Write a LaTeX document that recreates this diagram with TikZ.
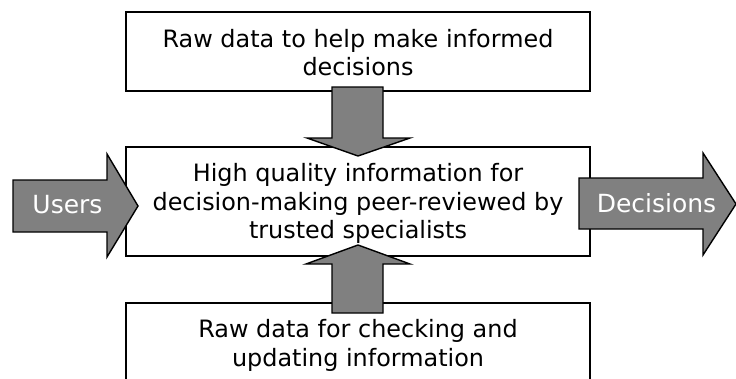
\documentclass[tikz,border=0pt]{standalone}
\usepackage{fontspec}
\setmainfont{DejaVu Sans}
\definecolor{arrowgray}{RGB}{128,128,128}

\tikzset{
    infobox/.style={draw,line width=1.6pt,fill=white,minimum width=464pt},
    boxtext/.style={anchor=base,align=center,inner sep=0pt,
        font=\fontsize{23.9}{28.3}\selectfont},
    blockarrow/.style={draw,line width=1.4pt,fill=arrowgray,line join=miter},
    arrowtext/.style={anchor=base,inner sep=0pt,text=white,
        font=\fontsize{25}{30}\selectfont}
}

\begin{document}
\begin{tikzpicture}[x=1pt,y=-1pt]
    \useasboundingbox (0,0) rectangle (736,378);
    \clip (0,0) rectangle (736,378);

    % three boxes, the lowest runs off the bottom edge
    \node[infobox,minimum height=79pt] (rawTop) at (358,51.5) {};
    \node[infobox,minimum height=109pt] (quality) at (358,201.5) {};
    \node[infobox,minimum height=100pt] (rawBottom) at (358,353) {};

    % base of a text node sits on its last line
    \node[boxtext] (rawTopText) at (358,75.6)
        {Raw data to help make informed\\decisions};
    \node[boxtext] (qualityText) at (358,238.3)
        {High quality information for\\decision-making peer-reviewed by\\trusted specialists};
    \node[boxtext] (rawBottomText) at (358,366)
        {Raw data for checking and\\updating information};

    % block arrows in and out
    \draw[blockarrow] (13,180) -- (107,180) -- (107,154) -- (138,206)
        -- (107,257) -- (107,232) -- (13,232) -- cycle;
    \node[arrowtext] (users) at (67.5,213) {Users};

    \draw[blockarrow] (579,178) -- (703,178) -- (703,153) -- (736,204)
        -- (703,255) -- (703,229) -- (579,229) -- cycle;
    \node[arrowtext] (decisions) at (656.5,212) {Decisions};

    % block arrows feeding the middle box
    \draw[blockarrow] (332,87) -- (383,87) -- (383,138) -- (410,138)
        -- (358,156) -- (307,138) -- (332,138) -- cycle;
    \draw[blockarrow] (358,245) -- (410,264) -- (383,264) -- (383,313)
        -- (332,313) -- (332,264) -- (306,264) -- cycle;

\end{tikzpicture}
\end{document}
